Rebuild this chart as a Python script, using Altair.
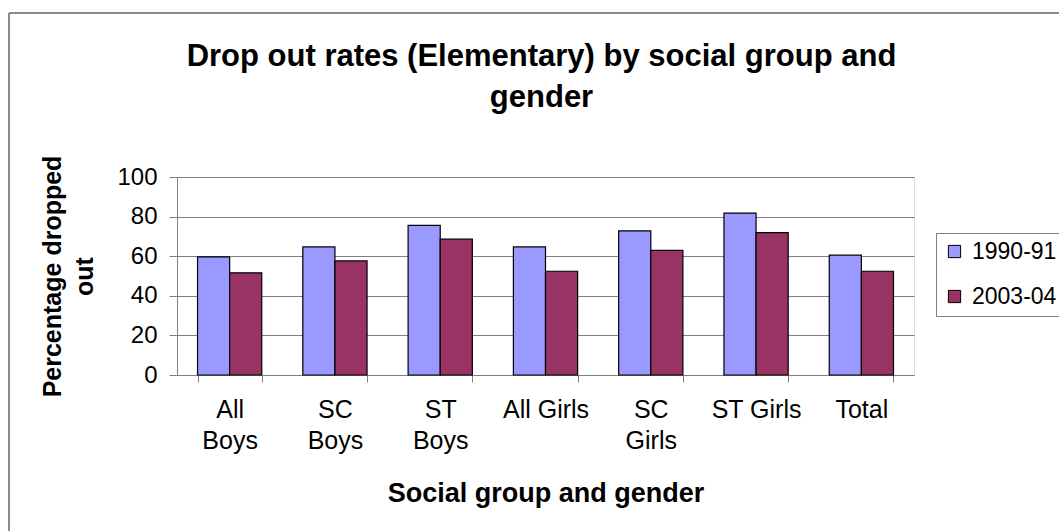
import altair as alt
import pandas as pd

# Drop-out rates, classes I-VIII, by social group and gender
categories = ["All Boys", "SC Boys", "ST Boys", "All Girls", "SC Girls", "ST Girls", "Total"]
tick_labels = ["All\nBoys", "SC\nBoys", "ST\nBoys", "All Girls", "SC\nGirls", "ST Girls", "Total"]
periods = ["1990-91", "2003-04"]
rates_1990 = [59.7, 64.7, 75.6, 64.7, 72.8, 81.8, 60.5]
rates_2003 = [51.6, 57.6, 68.6, 52.4, 62.9, 71.9, 52.4]
period_colors = ["#9999FF", "#993366"]

rows = []
for lab, a, b in zip(tick_labels, rates_1990, rates_2003):
    rows.append({"group": lab, "period": periods[0], "rate": a})
    rows.append({"group": lab, "period": periods[1], "rate": b})
df = pd.DataFrame(rows)

FONT = "Liberation Sans"
W, H = 737, 198

bars = alt.Chart(df).mark_bar(stroke="black", strokeWidth=1.2).encode(
    x=alt.X(
        "group:N",
        sort=tick_labels,
        scale=alt.Scale(paddingInner=0.39, paddingOuter=0.195),
        axis=alt.Axis(
            title="Social group and gender",
            titleFont=FONT, titleFontSize=27, titleFontWeight="bold", titleColor="black",
            titleY=118, titleBaseline="middle",
            labelAngle=0, labelExpr="split(datum.label, '\\n')",
            labelFont=FONT, labelFontSize=25, labelColor="black",
            labelLineHeight=31, labelPadding=15, labelBaseline="top",
            tickBand="extent", tickSize=7, tickColor="#808080",
            domainColor="#808080", grid=False,
        ),
    ),
    xOffset=alt.XOffset("period:N", sort=periods,
                        scale=alt.Scale(paddingInner=0, paddingOuter=0)),
    y=alt.Y(
        "rate:Q",
        scale=alt.Scale(domain=[0, 100], nice=False),
        axis=alt.Axis(
            title=["Percentage dropped", "out"],
            titleFont=FONT, titleFontSize=25, titleFontWeight="bold", titleColor="black",
            titleLineHeight=32, titleAngle=-90, titleX=-125, titleY=99,
            titleAlign="center", titleBaseline="middle",
            values=[0, 20, 40, 60, 80, 100],
            labelFont=FONT, labelFontSize=24, labelColor="black", labelPadding=12,
            tickSize=8, tickColor="#808080", domainColor="#808080",
            gridColor="#808080", gridWidth=1,
        ),
    ),
    color=alt.Color(
        "period:N",
        scale=alt.Scale(domain=periods, range=period_colors),
        legend=alt.Legend(
            title=None, orient="none", legendX=759, legendY=56,
            direction="vertical",
            fillColor="white", strokeColor="#808080", padding=7,
            symbolType="square", symbolSize=150, symbolStrokeColor="black",
            symbolStrokeWidth=1,
            labelFont=FONT, labelFontSize=23, labelColor="black",
            labelOffset=6, rowPadding=21,
        ),
    ),
)

# chart-area frame along the left and top edges
frame_data = pd.DataFrame({"k": [0]})
frame_left = alt.Chart(frame_data).mark_rule(color="#8c8c8c", strokeWidth=2).encode(
    x=alt.value(-168), y=alt.value(-164), y2=alt.value(400)
)
frame_top = alt.Chart(frame_data).mark_rule(color="#8c8c8c", strokeWidth=2).encode(
    x=alt.value(-168), x2=alt.value(900), y=alt.value(-164)
)

chart = alt.layer(bars, frame_left, frame_top).properties(
    width=W,
    height=H,
    title=alt.TitleParams(
        text=["Drop out rates (Elementary) by social group and", "gender"],
        font=FONT, fontSize=31, fontWeight="bold", color="black",
        lineHeight=41, anchor="middle", offset=0, dx=-4, dy=102,
    ),
    autosize=alt.AutoSizeParams(type="none"),
    padding={"left": 177, "top": 177, "right": 145, "bottom": 156},
).configure_view(
    fill="#C0C0C0", stroke="#808080", strokeWidth=1
).configure(background="white")

chart.save("out.html", embed_options={"renderer": "svg", "actions": False})
